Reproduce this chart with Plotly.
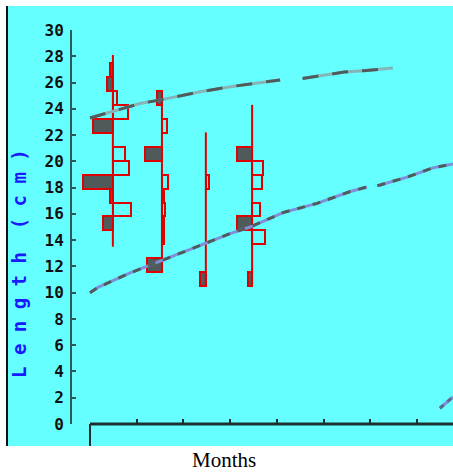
import plotly.graph_objects as go

# ---------------- data ----------------
# length classes (cm) shared by all samples
class_mid = [11.03, 12.09, 13.15, 14.21, 15.27, 16.33, 17.39, 18.45, 19.51,
             20.57, 21.63, 22.69, 23.75, 24.81, 25.87, 26.93, 27.99]
class_width = 1.06

# sample positions (months) and length range covered by each sample
sample_pos = [0.49, 1.54, 2.48, 3.47]
sample_min = [13.5, 11.6, 10.6, 10.5]
sample_max = [28.1, 25.3, 22.2, 24.3]

# restructured scores per class (positive = black bar, negative = white bar)
scores_1 = [0, 0, 0, 0, 0.33, -0.60, 0.10, 1.00, -0.53, -0.40, 0, 0.67, -0.50, -0.13, 0.20, 0.10, 0]
scores_2 = [0, 0.50, 0, -0.07, -0.07, -0.10, -0.07, -0.20, 0, 0.57, 0, -0.17, 0, 0.17, 0, 0, 0]
scores_3 = [0.20, 0, 0, 0, 0, 0, 0, -0.10, 0, 0, 0, 0, 0, 0, 0, 0, 0]
scores_4 = [0.13, 0, 0, -0.43, 0.50, -0.27, 0, -0.33, -0.37, 0.50, 0, 0, 0, 0, 0, 0, 0]
all_scores = [scores_1, scores_2, scores_3, scores_4]

# growth curves (month, length cm); None = gap in the drawn curve
upper_t = [0.0, 0.49, 1.07, 1.54, 2.36, 3.04, 3.43, 3.85, 4.07, None, 4.55, 4.71, 5.05, 5.44, 5.85, 6.47]
upper_L = [23.3, 23.8, 24.4, 24.7, 25.3, 25.7, 25.9, 26.1, 26.2, None, 26.3, 26.4, 26.6, 26.8, 26.9, 27.1]
lower_t = [0.0, 0.17, 0.86, 1.56, 2.51, 3.0, 3.43, 4.13, 4.86, 5.57, 5.93, None, 6.15, 6.21, 6.79, 7.34, 7.77]
lower_L = [10.0, 10.4, 11.5, 12.5, 13.8, 14.5, 15.0, 16.1, 16.8, 17.7, 18.05, None, 18.15, 18.2, 18.8, 19.5, 19.8]
third_t = [7.49, 7.77]
third_L = [1.2, 2.06]

y_ticks = list(range(0, 31, 2))
y_ticktext = [str(v) for v in y_ticks]
month_ticks = [1, 2, 3, 4, 5, 6, 7]

SCALE = 0.64  # months per score unit

# ---------------- figure ----------------
CYAN = "#66FFFF"
RED = "#e00000"
fig = go.Figure()

for pos, lo, hi, sc in zip(sample_pos, sample_min, sample_max, all_scores):
    pos_y = [m for m, s in zip(class_mid, sc) if s > 0]
    pos_x = [-s * SCALE for s in sc if s > 0]
    neg_y = [m for m, s in zip(class_mid, sc) if s < 0]
    neg_x = [-s * SCALE for s in sc if s < 0]
    fig.add_trace(go.Bar(orientation="h", y=pos_y, x=pos_x, base=pos, width=class_width,
                         marker=dict(color="#515a5a", line=dict(color=RED, width=2)),
                         showlegend=False, hoverinfo="skip"))
    fig.add_trace(go.Bar(orientation="h", y=neg_y, x=neg_x, base=pos, width=class_width,
                         marker=dict(color="rgba(0,0,0,0)", line=dict(color=RED, width=2)),
                         showlegend=False, hoverinfo="skip"))
    fig.add_trace(go.Scatter(x=[pos, pos], y=[lo, hi], mode="lines",
                             line=dict(color=RED, width=2), showlegend=False, hoverinfo="skip"))

def curve(t, L, base, dark, dash):
    fig.add_trace(go.Scatter(x=t, y=L, mode="lines", connectgaps=False,
                             line=dict(color=base, width=3), showlegend=False, hoverinfo="skip"))
    fig.add_trace(go.Scatter(x=t, y=L, mode="lines", connectgaps=False,
                             line=dict(color=dark, width=3, dash=dash), showlegend=False, hoverinfo="skip"))

curve(upper_t, upper_L, "#86b4b8", "#4f5c5c", "16px,14px")
curve(lower_t, lower_L, "#7f8fd8", "#4f5c5c", "8px,8px")
curve(third_t, third_L, "#7f8fd8", "#5f6a8a", "5px,5px")

W, H = 453, 474
L_M, R_M, T_M, B_M = 72, 0, 30, 50
pw, ph = W - L_M - R_M, H - T_M - B_M

def px_x(p):
    return (p - L_M) / pw

def px_y(p):
    return (H - B_M - p) / ph

AX = "#1c2e2e"
fig.update_layout(
    width=W, height=H, autosize=False,
    margin=dict(l=L_M, r=R_M, t=T_M, b=B_M, pad=0),
    paper_bgcolor="white", plot_bgcolor="rgba(0,0,0,0)",
    barmode="overlay", bargap=0,
    xaxis=dict(range=[-0.385, 7.77], showgrid=False, zeroline=False, showline=False,
               tickvals=month_ticks, ticks="inside", ticklen=5, tickwidth=2, tickcolor=AX,
               showticklabels=False, fixedrange=True),
    yaxis=dict(range=[0, 30], showgrid=False, zeroline=False, showline=True, linewidth=2,
               linecolor="#2f5a5a", tickvals=y_ticks, ticktext=y_ticktext, ticks="inside",
               ticklen=4, tickwidth=2, tickcolor="#2f5a5a",
               tickfont=dict(family="DejaVu Sans Mono", size=16, color="#111111", weight="bold"),
               ticklabelstandoff=3),
    shapes=[
        dict(type="rect", xref="paper", yref="paper", x0=px_x(7), x1=1.0, y0=px_y(446), y1=px_y(6),
             fillcolor=CYAN, line=dict(width=0), layer="below"),
        dict(type="line", xref="paper", yref="paper", x0=px_x(7), x1=px_x(7), y0=px_y(446), y1=px_y(6),
             line=dict(color="#111111", width=2), layer="above"),
        dict(type="line", xref="x", yref="paper", x0=0, x1=7.77, y0=0, y1=0,
             line=dict(color=AX, width=3), layer="above"),
        dict(type="line", xref="x", yref="paper", x0=0, x1=0, y0=0, y1=px_y(446),
             line=dict(color=AX, width=2), layer="above"),
    ],
    annotations=[
        dict(text="L\u00a0e\u00a0n\u00a0g\u00a0t\u00a0h\u00a0\u00a0(\u00a0c\u00a0m\u00a0)",
             xref="paper", yref="paper", x=px_x(19), y=px_y(264), textangle=-90,
             showarrow=False, xanchor="center", yanchor="middle",
             font=dict(family="DejaVu Sans Mono", size=19, color="#1a1aff", weight="bold")),
        dict(text="Months", xref="paper", yref="paper", x=px_x(224), y=px_y(460),
             showarrow=False, xanchor="center", yanchor="middle",
             font=dict(family="Liberation Serif", size=21, color="black")),
    ],
)

fig.write_html("out.html")
